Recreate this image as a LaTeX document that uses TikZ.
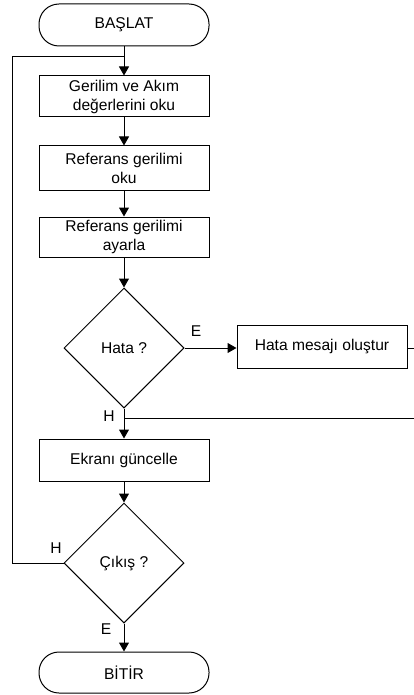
\documentclass[tikz,border=0pt]{standalone}
\usepackage{fontspec}
\setmainfont{Liberation Sans}
\usetikzlibrary{arrows.meta,shapes.geometric}
\begin{document}
\begin{tikzpicture}[x=1pt,y=-1pt,
  every node/.style={font=\fontsize{15.6}{19}\selectfont},
  proc/.style={draw,line width=1pt,minimum width=170pt,minimum height=41pt,align=center,inner sep=0pt},
  term/.style={draw,line width=1pt,rounded corners=20pt,minimum width=170pt,minimum height=42pt,inner sep=0pt},
  dec/.style={draw,line width=1pt,diamond,minimum width=120pt,minimum height=120pt,inner sep=0pt,aspect=1},
  lbl/.style={inner sep=0pt},
  conn/.style={line width=1pt},
  arr/.style={line width=1pt,-{Triangle[length=9pt,width=10pt]}}]
\useasboundingbox (0,0) rectangle (414,695);
\node[term] (start) at (124,25) {BAŞLAT};
\node[proc] (b1) at (124,96.5) {Gerilim ve Akım\\değerlerini oku};
\node[proc,minimum height=44pt] (b2) at (124,168) {Referans gerilimi\\oku};
\node[proc,minimum height=40pt] (b3) at (124,237) {Referans gerilimi\\ayarla};
\node[dec] (d1) at (124,348) {Hata ?};
\node[proc,minimum height=43pt] (b4) at (322,346.5) {Hata mesajı oluştur};
\node[proc,minimum height=42pt] (b5) at (124,460) {Ekranı güncelle};
\node[dec] (d2) at (124,563) {Çıkış ?};
\node[term,minimum height=41pt] (stop) at (124,672.5) {BİTİR};
\coordinate (loopa) at (12,563);
\coordinate (loopb) at (12,57);
\coordinate (loopc) at (124,57);
\coordinate (e1) at (414,348);
\coordinate (hj) at (124,418);
\coordinate (e2) at (414,418);
\draw[arr] (start) -- (b1);
\draw[arr] (b1) -- (b2);
\draw[arr] (b2) -- (b3);
\draw[arr] (b3) -- (d1);
\draw[arr] (d1.east) -- (b4.west |- d1.east);
\draw[conn] (b4.east |- d1.east) -- (e1);
\draw[arr] (d1) -- (b5);
\draw[conn] (hj) -- (e2);
\draw[arr] (b5) -- (d2);
\draw[arr] (d2) -- (stop);
\draw[conn] (d2.west) -- (loopa) -- (loopb) -- (loopc);
\node[lbl] (le1) at (196,331) {E};
\node[lbl] (lh1) at (109,416) {H};
\node[lbl] (lh2) at (56,548) {H};
\node[lbl] (le2) at (106,629) {E};
\end{tikzpicture}
\end{document}
